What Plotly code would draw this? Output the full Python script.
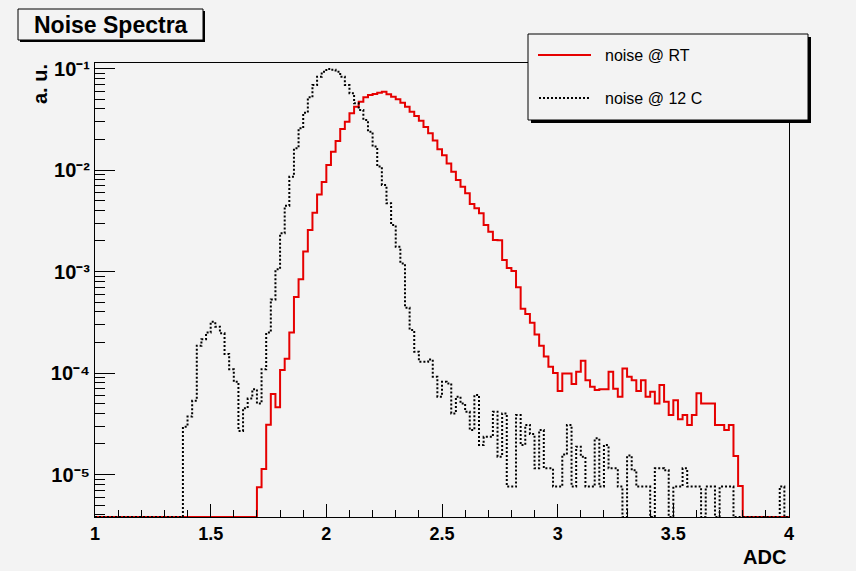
import math
import plotly.graph_objects as go

# ---------------- data ----------------
x_min, x_max, n_bins = 1.0, 4.0, 150
bin_edges = [round(x_min + (x_max - x_min) * i / n_bins, 2) for i in range(n_bins + 1)]

noise_rt = (
    [0.0] * 35 +
    [7.5e-6, 1.13e-5, 3.1e-5, 6.2e-5, 4.6e-5, 1.07e-4, 1.38e-4, 2.5e-4, 5.6e-4, 8.4e-4,
     1.57e-3, 2.56e-3, 3.8e-3, 5.75e-3, 7.6e-3, 1.12e-2, 1.51e-2, 1.93e-2, 2.54e-2, 2.99e-2,
     3.63e-2, 4.2e-2, 4.71e-2, 5.2e-2, 5.48e-2, 5.61e-2, 5.78e-2, 5.9e-2, 5.57e-2, 5.27e-2,
     4.98e-2, 4.6e-2, 4.2e-2, 3.75e-2, 3.4e-2, 3.06e-2, 2.65e-2, 2.3e-2, 1.95e-2, 1.6e-2,
     1.4e-2, 1.16e-2, 9.6e-3, 7.96e-3, 6.85e-3, 5.9e-3, 4.62e-3, 4.2e-3, 3.74e-3, 2.87e-3,
     2.47e-3, 2.04e-3, 2.03e-3, 1.3e-3, 1.08e-3, 1.01e-3, 7.0e-4, 4.3e-4, 3.81e-4, 3.13e-4,
     2.4e-4, 1.86e-4, 1.45e-4, 1.15e-4, 1.0e-4, 6.65e-5, 9.9e-5, 9.9e-5, 7.8e-5, 1.03e-4,
     1.32e-4, 8.5e-5, 7.3e-5, 6.8e-5, 6.9e-5, 6.9e-5, 1.03e-4, 7.0e-5, 5.85e-5, 1.11e-4,
     9.2e-5, 8.5e-5, 6.65e-5, 8.5e-5, 5.85e-5, 6.55e-5, 5.0e-5, 7.6e-5, 5.2e-5, 3.86e-5,
     5.4e-5, 3.5e-5, 3.86e-5, 3.08e-5, 3.86e-5, 6.3e-5, 5.0e-5, 5.0e-5, 5.0e-5, 3.08e-5,
     3.08e-5, 2.74e-5, 3.08e-5, 1.52e-5, 7.7e-6] +
    [0.0] * 10
)

noise_12c = (
    [0.0] * 19 +
    [2.96e-5, 3.72e-5, 5.33e-5, 1.86e-4, 2.15e-4, 2.5e-4, 3.2e-4, 2.86e-4, 2.46e-4, 1.54e-4,
     1.09e-4, 8.2e-5, 2.69e-5, 4.5e-5, 5.6e-5, 6.9e-5, 5.0e-5, 1.09e-4, 2.5e-4, 5.3e-4,
     1.05e-3, 2.38e-3, 4.45e-3, 8.6e-3, 1.64e-2, 2.58e-2, 3.67e-2, 5.2e-2, 6.87e-2, 8.3e-2,
     9.3e-2, 9.9e-2, 9.7e-2, 9.3e-2, 8.3e-2, 6.87e-2, 5.7e-2, 4.54e-2, 3.9e-2, 3.11e-2,
     2.38e-2, 1.7e-2, 1.08e-2, 7.1e-3, 4.7e-3, 2.87e-3, 1.75e-3, 1.2e-3, 4.4e-4, 2.65e-4,
     1.62e-4, 1.29e-4, 1.29e-4, 1.36e-4, 9.2e-5, 5.85e-5, 8.2e-5, 7.9e-5, 4.0e-5, 5.85e-5,
     5.0e-5, 4.15e-5, 2.74e-5, 6.07e-5, 1.95e-5, 2.35e-5, 2.35e-5, 4.16e-5, 1.5e-5, 4.0e-5,
     7.6e-6, 7.6e-6, 3.86e-5, 1.95e-5, 3.08e-5, 2.5e-5, 1.15e-5, 2.74e-5, 1.15e-5, 1.15e-5,
     7.6e-6, 7.6e-6, 1.57e-5, 3.08e-5, 7.6e-6, 1.88e-5, 1.5e-5, 7.6e-6, 7.6e-6, 2.27e-5,
     7.6e-6, 1.95e-5, 1.15e-5, 1.15e-5, 7.6e-6, 0.0, 1.54e-5, 1.1e-5, 7.6e-6, 7.6e-6,
     7.6e-6, 0.0, 1.15e-5, 1.15e-5, 1.1e-5, 0.0, 7.6e-6, 7.6e-6, 1.15e-5, 7.6e-6,
     7.6e-6, 7.6e-6, 0.0, 7.6e-6, 7.6e-6, 0.0, 7.6e-6, 7.6e-6, 7.6e-6] +
    [0.0] * 10 + [7.6e-6, 0.0]
)

series_names = ["noise @ RT", "noise @ 12 C"]
x_tick_vals = [1, 1.5, 2, 2.5, 3, 3.5, 4]
x_tick_text = ["1", "1.5", "2", "2.5", "3", "3.5", "4"]
y_tick_vals = [1e-5, 1e-4, 1e-3, 1e-2, 1e-1]
y_tick_text = ["10⁻⁵", "10⁻⁴", "10⁻³", "10⁻²", "10⁻¹"]

# ---------------- layout geometry ----------------
W, H = 856, 571
PL, PR, PT, PB = 95, 789, 63, 517
Y_LOG_RANGE = [-5.4187, -0.9458]
Y_FLOOR = 10 ** Y_LOG_RANGE[0]
BG = "#f3f3f3"
FONT = "Liberation Sans, Arial, Helvetica, sans-serif"


def fx(p):
    return (p - PL) / (PR - PL)


def fy(p):
    return (PB - p) / (PB - PT)


def step_y(vals):
    y = [v if v > 0 else Y_FLOOR for v in vals]
    return y + [y[-1]]


fig = go.Figure()
fig.add_trace(go.Scatter(
    x=bin_edges, y=step_y(noise_rt), mode="lines", name=series_names[0],
    line=dict(shape="hv", color="#e60000", width=2), hoverinfo="skip", showlegend=False))
fig.add_trace(go.Scatter(
    x=bin_edges, y=step_y(noise_12c), mode="lines", name=series_names[1],
    line=dict(shape="hv", color="black", width=2, dash="2px,2px"), hoverinfo="skip",
    showlegend=False))

x_minor = [round(1 + 0.1 * i, 1) for i in range(31)]
x_minor = [v for v in x_minor if v not in x_tick_vals]
y_minor = [k * 10.0 ** e for e in range(-6, 0) for k in range(2, 10)
           if Y_LOG_RANGE[0] <= math.log10(k * 10.0 ** e) <= Y_LOG_RANGE[1]]

fig.update_xaxes(
    range=[x_min, x_max], showgrid=False, zeroline=False,
    showline=True, linecolor="black", linewidth=1, mirror=True,
    tickmode="array", tickvals=x_tick_vals, ticktext=x_tick_text,
    ticks="inside", ticklen=13, tickcolor="black", tickwidth=1,
    tickfont=dict(family=FONT, size=18, color="black", weight="bold"),
    minor=dict(tickmode="array", tickvals=x_minor, ticks="inside", ticklen=7,
               tickcolor="black", tickwidth=1, showgrid=False),
)
fig.update_yaxes(
    type="log", range=Y_LOG_RANGE, showgrid=False, zeroline=False,
    showline=True, linecolor="black", linewidth=1, mirror=True,
    tickmode="array", tickvals=y_tick_vals, ticktext=y_tick_text,
    ticks="inside", ticklen=20, tickcolor="black", tickwidth=1,
    tickfont=dict(family=FONT, size=20, color="black", weight="bold"),
    minor=dict(tickmode="array", tickvals=y_minor, ticks="inside", ticklen=10,
               tickcolor="black", tickwidth=1, showgrid=False),
)

shapes = [
    # title box shadow + box
    dict(type="rect", xref="paper", yref="paper", x0=fx(20), x1=fx(205), y0=fy(42), y1=fy(11),
         fillcolor="black", line=dict(width=0), layer="above"),
    dict(type="rect", xref="paper", yref="paper", x0=fx(18), x1=fx(203), y0=fy(40), y1=fy(9),
         fillcolor=BG, line=dict(color="black", width=1), layer="above"),
    # legend box shadow + box
    dict(type="rect", xref="paper", yref="paper", x0=fx(531), x1=fx(811), y0=fy(123), y1=fy(37),
         fillcolor="black", line=dict(width=0), layer="above"),
    dict(type="rect", xref="paper", yref="paper", x0=fx(528), x1=fx(808), y0=fy(120), y1=fy(34),
         fillcolor=BG, line=dict(color="black", width=1), layer="above"),
    # legend samples
    dict(type="line", xref="paper", yref="paper", x0=fx(538), x1=fx(591), y0=fy(55), y1=fy(55),
         line=dict(color="#e60000", width=2), layer="above"),
    dict(type="line", xref="paper", yref="paper", x0=fx(539), x1=fx(591), y0=fy(98), y1=fy(98),
         line=dict(color="black", width=2, dash="2px,2px"), layer="above"),
]

annotations = [
    dict(text="Noise Spectra", xref="paper", yref="paper", x=fx(110.5), y=fy(25),
         xanchor="center", yanchor="middle", showarrow=False,
         font=dict(family=FONT, size=23, color="black", weight="bold")),
    dict(text=series_names[0], xref="paper", yref="paper", x=fx(603), y=fy(55),
         xanchor="left", yanchor="middle", showarrow=False,
         font=dict(family=FONT, size=16, color="black")),
    dict(text=series_names[1], xref="paper", yref="paper", x=fx(603), y=fy(98),
         xanchor="left", yanchor="middle", showarrow=False,
         font=dict(family=FONT, size=16, color="black")),
    dict(text="a. u.", xref="paper", yref="paper", x=fx(40), y=fy(62),
         xanchor="center", yanchor="top", textangle=-90, showarrow=False,
         font=dict(family=FONT, size=20, color="black", weight="bold")),
    dict(text="ADC", xref="paper", yref="paper", x=fx(788), y=fy(557),
         xanchor="right", yanchor="middle", showarrow=False,
         font=dict(family=FONT, size=20, color="black", weight="bold")),
]

fig.update_layout(
    width=W, height=H,
    margin=dict(l=PL, r=W - PR, t=PT, b=H - PB),
    paper_bgcolor=BG, plot_bgcolor=BG,
    showlegend=False, shapes=shapes, annotations=annotations,
    font=dict(family=FONT, color="black"),
)

fig.write_html("out.html")
